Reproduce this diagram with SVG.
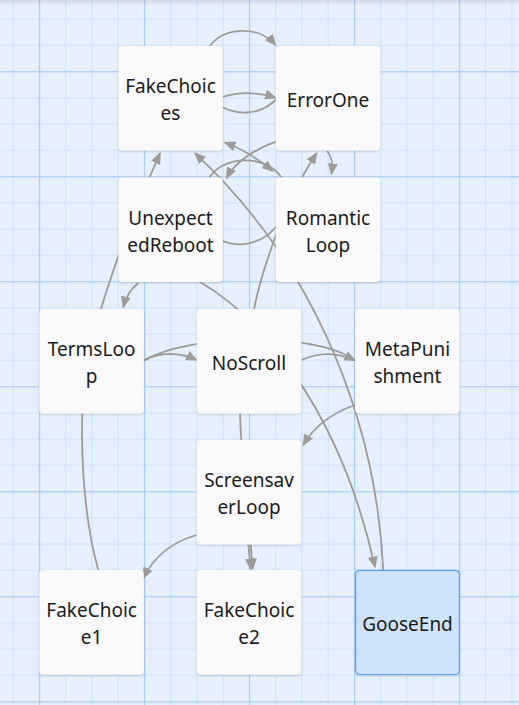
<svg xmlns="http://www.w3.org/2000/svg" width="519" height="705" viewBox="0 0 519 705">
  <defs>
    <pattern id="grid" patternUnits="userSpaceOnUse" x="38.9" y="71.2" width="105" height="105">
      <rect x="0" y="0" width="105" height="105" fill="#e6f0fc"/>
      <rect x="26.25" y="0" width="1" height="105" fill="#cde0f8"/>
      <rect x="52.5" y="0" width="1" height="105" fill="#cde0f8"/>
      <rect x="78.75" y="0" width="1" height="105" fill="#cde0f8"/>
      <rect x="0" y="26.25" width="105" height="1" fill="#cde0f8"/>
      <rect x="0" y="52.5" width="105" height="1" fill="#cde0f8"/>
      <rect x="0" y="78.75" width="105" height="1" fill="#cde0f8"/>
      <rect x="0" y="0" width="1.2" height="105" fill="#a9cbf3"/>
      <rect x="0" y="0" width="105" height="1.2" fill="#a9cbf3"/>
    </pattern>
    <linearGradient id="topshade" x1="0" y1="0" x2="0" y2="1">
      <stop offset="0" stop-color="#000" stop-opacity="0.09"/>
      <stop offset="1" stop-color="#000" stop-opacity="0"/>
    </linearGradient>
    <marker id="arr" viewBox="0 0 12 10" refX="10.5" refY="5" markerWidth="12" markerHeight="10" markerUnits="userSpaceOnUse" orient="auto-start-reverse">
      <path d="M0,0 L12,5 L0,10 z" fill="#9b9b9b"/>
    </marker>
    <filter id="shadow" x="-10%" y="-10%" width="120%" height="120%">
      <feDropShadow dx="0" dy="1" stdDeviation="1.2" flood-color="#000" flood-opacity="0.16"/>
    </filter>
  </defs>
  <style>
    .edge { fill: none; stroke: #9b9b9b; stroke-width: 1.8; }
    .arrow { marker-end: url(#arr); }
    .both { marker-start: url(#arr); marker-end: url(#arr); }
    .card { fill: #f9f9f9; filter: url(#shadow); }
    .sel { fill: #cfe2fb; stroke: #5b9ff0; stroke-width: 1.2; filter: url(#shadow); }
    .label { font-family: "Noto Sans", "Open Sans", "DejaVu Sans", sans-serif; font-size: 19px; fill: #1b1b1b; text-anchor: middle; }
  </style>

  <rect x="0" y="0" width="519" height="705" fill="url(#grid)"/>
  <rect x="0" y="0" width="519" height="6" fill="url(#topshade)"/>

  <g id="connectors">
    <path class="edge arrow" d="M210,46 C222,28 258,24 275.5,45"/>
    <path class="edge arrow" d="M222,97 Q248,89 275.5,97.7"/>
    <path class="edge" d="M222,107 C235,114 258,117 275.5,100"/>
    <path class="edge arrow" d="M276,141.7 C258,148 236,160 226.7,178"/>
    <path class="edge both" d="M225,142.5 Q250,152 272.5,171"/>
    <path class="edge" d="M208,180 C220,155 270,152 284,182"/>
    <path class="edge" d="M215,235 C228,250 262,248 280,222"/>
    <path class="edge arrow" d="M327,150.7 C332,157 333,163 331.5,174"/>
    <path class="edge arrow" d="M254,309 C262,270 285,200 316.7,153.3"/>
    <path class="edge arrow" d="M138.3,283 C132,288 126,296 123.3,307"/>
    <path class="edge arrow" d="M98.3,570 C84,520 78,440 85,380 C92,320 130,220 160,153.3"/>
    <path class="edge arrow" d="M144,360 C160,352 180,352 196.7,360"/>
    <path class="edge" d="M144,360.7 C185,335 310,330 355,360"/>
    <path class="edge arrow" d="M301.7,360 C318,352 338,352 355,360.5"/>
    <path class="edge arrow" d="M240,410 C241,470 250,520 252.5,569"/>
    <path class="edge arrow" d="M248.3,544 C249,552 250,560 250.5,569"/>
    <path class="edge arrow" d="M355,405 C335,412 315,425 303.3,445"/>
    <path class="edge arrow" d="M196.7,535 C175,541 155,555 143.3,578"/>
    <path class="edge arrow" d="M200,282 C262,318 340,410 375,567"/>
    <path class="edge arrow" d="M383.3,570 C375,400 300,250 195,153.3"/>
  </g>

  <g id="FakeChoices">
    <rect class="card" x="118.3" y="46" width="104.5" height="104.5" rx="4"/>
    <text class="label" x="170.5"><tspan x="170.5" y="93.3">FakeChoic</tspan><tspan x="170.5" y="120">es</tspan></text>
  </g>
  <g id="ErrorOne">
    <rect class="card" x="275.8" y="46" width="104.5" height="104.5" rx="4"/>
    <text class="label" x="328" y="107.3">ErrorOne</text>
  </g>
  <g id="UnexpectedReboot">
    <rect class="card" x="118.3" y="177.5" width="104.5" height="104.5" rx="4"/>
    <text class="label"><tspan x="170.5" y="224.8">Unexpect</tspan><tspan x="170.5" y="251.5">edReboot</tspan></text>
  </g>
  <g id="RomanticLoop">
    <rect class="card" x="275.8" y="177.5" width="104.5" height="104.5" rx="4"/>
    <text class="label"><tspan x="328" y="224.8">Romantic</tspan><tspan x="328" y="251.5">Loop</tspan></text>
  </g>
  <g id="TermsLoop">
    <rect class="card" x="39.3" y="309" width="104.5" height="104.5" rx="4"/>
    <text class="label"><tspan x="91.6" y="356.3">TermsLoo</tspan><tspan x="91.6" y="383">p</tspan></text>
  </g>
  <g id="NoScroll">
    <rect class="card" x="196.8" y="309" width="104.5" height="104.5" rx="4"/>
    <text class="label" x="249" y="370.3">NoScroll</text>
  </g>
  <g id="MetaPunishment">
    <rect class="card" x="355.2" y="309" width="104.5" height="104.5" rx="4"/>
    <text class="label"><tspan x="407.4" y="356.3">MetaPuni</tspan><tspan x="407.4" y="383">shment</tspan></text>
  </g>
  <g id="ScreensaverLoop">
    <rect class="card" x="196.8" y="440" width="104.5" height="104.5" rx="4"/>
    <text class="label"><tspan x="249" y="487.3">Screensav</tspan><tspan x="249" y="514">erLoop</tspan></text>
  </g>
  <g id="FakeChoice1">
    <rect class="card" x="39.3" y="570" width="104.5" height="104.5" rx="4"/>
    <text class="label"><tspan x="91.6" y="617.3">FakeChoic</tspan><tspan x="91.6" y="644">e1</tspan></text>
  </g>
  <g id="FakeChoice2">
    <rect class="card" x="196.8" y="570" width="104.5" height="104.5" rx="4"/>
    <text class="label"><tspan x="249" y="617.3">FakeChoic</tspan><tspan x="249" y="644">e2</tspan></text>
  </g>
  <g id="GooseEnd">
    <rect class="sel" x="355.6" y="570.3" width="103.8" height="104.2" rx="4"/>
    <text class="label" x="407.5" y="631.3">GooseEnd</text>
  </g>
</svg>
